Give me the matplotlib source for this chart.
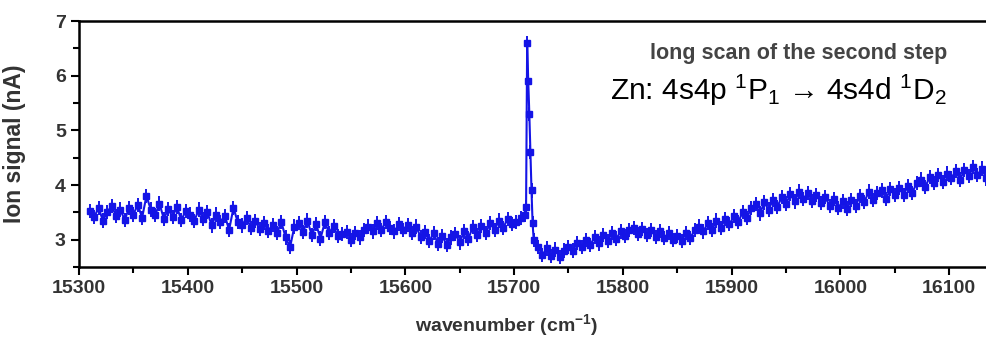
import numpy as np
import matplotlib
matplotlib.use('Agg')
import matplotlib.pyplot as plt
from matplotlib.ticker import MultipleLocator

plt.rcParams['font.family'] = ['Liberation Sans', 'DejaVu Sans']
plt.rcParams['mathtext.fontset'] = 'custom'
plt.rcParams['mathtext.rm'] = 'Liberation Sans'
plt.rcParams['mathtext.it'] = 'Liberation Sans:italic'
plt.rcParams['mathtext.bf'] = 'Liberation Sans:bold'

# scan before the resonance, 4 cm-1 steps from 15310
scan1_start = 15310
scan1_y = [3.52, 3.42, 3.58, 3.35, 3.50, 3.62, 3.44, 3.55, 3.36, 3.58, 3.46, 3.64, 3.40, 3.80, 3.55, 3.45, 3.66, 3.38, 3.56, 3.42, 3.60, 3.36, 3.52,
           3.46, 3.34, 3.55, 3.38, 3.50, 3.26, 3.46, 3.32, 3.44, 3.18, 3.58, 3.32, 3.26, 3.40, 3.22, 3.34, 3.20, 3.30, 3.16, 3.27, 3.12, 3.32, 3.04, 2.86, 3.24,
           3.30, 3.14, 3.35, 3.08, 3.28, 3.02, 3.32, 3.12, 3.25, 3.06, 3.10, 3.14, 3.00, 3.12, 3.04, 3.18, 3.24, 3.15, 3.30, 3.18, 3.33, 3.22, 3.15, 3.28, 3.18,
           3.27, 3.12, 3.24, 3.05, 3.14, 2.97, 3.12, 2.92, 3.07, 2.90, 3.04, 3.10, 2.95, 3.15, 3.02, 3.23, 3.08, 3.25, 3.12, 3.31, 3.18, 3.35, 3.22, 3.38, 3.28,
           3.32, 3.40, 3.45]

# resonance peak
peak_x = [15711, 15712, 15713, 15714, 15715, 15716, 15717, 15718]
peak_y = [3.60, 6.60, 5.90, 5.30, 4.60, 3.90, 3.30, 3.00]

# scan after the resonance, 4 cm-1 steps from 15722
scan2_start = 15722
scan2_y = [2.86, 2.72, 2.84, 2.70, 2.82, 2.68, 2.80, 2.87,
           2.80, 2.94, 2.86, 3.00, 2.90, 3.05, 2.93, 3.08, 2.98, 3.12, 3.02, 3.15,
           3.06, 3.18, 3.22, 3.10, 3.20, 3.08, 3.18, 3.05, 3.16, 3.03, 3.12, 3.00, 3.07,
           2.98, 3.12, 3.03, 3.18, 3.24, 3.15, 3.30, 3.18, 3.35, 3.22, 3.38, 3.28,
           3.43, 3.32, 3.50, 3.40, 3.58, 3.65, 3.48, 3.68, 3.55, 3.73, 3.60, 3.78, 3.66,
           3.83, 3.70, 3.88, 3.75, 3.85, 3.71, 3.82, 3.67, 3.78, 3.62, 3.74, 3.58,
           3.70, 3.57, 3.72, 3.62, 3.80, 3.69, 3.88, 3.72, 3.85, 3.90, 3.75, 3.93, 3.82,
           3.95, 3.82, 3.98, 3.86, 4.03, 4.10, 3.96, 4.15, 4.03, 4.18, 4.06, 4.21,
           4.13, 4.25, 4.10, 4.28, 4.16, 4.33, 4.18, 4.30, 4.12, 4.24]
step = 4
err = 0.13

x_ticks = [15300, 15400, 15500, 15600, 15700, 15800, 15900, 16000, 16100]
y_ticks = [3, 4, 5, 6, 7]

scan1_x = scan1_start + step * np.arange(len(scan1_y))
scan2_x = scan2_start + step * np.arange(len(scan2_y))
x = np.concatenate([scan1_x, peak_x, scan2_x])
y = np.concatenate([scan1_y, peak_y, scan2_y])

blue = '#1414e6'
fig = plt.figure(figsize=(9.86, 3.38), dpi=100)
ax = fig.add_axes([79/986, 71/338, 0.93, 246/338])

ax.errorbar(x, y, yerr=err, fmt='s-', color=blue, ms=4, lw=1.5,
            elinewidth=1.4, capsize=0)

ax.set_xlim(15300, 16143)
ax.set_ylim(2.5, 7)
ax.set_xticks(x_ticks)
ax.set_yticks(y_ticks)
ax.xaxis.set_minor_locator(MultipleLocator(50))
ax.yaxis.set_minor_locator(MultipleLocator(0.5))
ax.tick_params(which='major', direction='out', length=6, width=1.5, labelsize=14,
               labelcolor='#333333', top=False, right=False)
ax.tick_params(which='minor', direction='out', length=4, width=1.5, top=False, right=False)
for lab in ax.get_xticklabels() + ax.get_yticklabels():
    lab.set_fontweight('bold')
for s in ['left', 'bottom', 'top']:
    ax.spines[s].set_linewidth(1.8)
ax.spines['right'].set_visible(False)

ax.set_xlabel('wavenumber (cm$^{\\mathbf{-1}}$)', fontsize=14, fontweight='bold',
              color='#333333')
ax.xaxis.set_label_coords(0.466, -0.183)
ax.set_ylabel('Ion signal (nA)', fontsize=16.5, fontweight='bold', color='#333333')
ax.yaxis.set_label_coords(-0.058, 0.5)

fig.text(947/986, 1 - 53/338, 'long scan of the second step', fontsize=15.5,
         fontweight='bold', color='#444444', ha='right', va='center')
fig.text(947/986, 1 - 90/338, 'Zn: 4s4p $^1$P$_1$ \u2192 4s4d $^1$D$_2$',
         fontsize=21.5, color='black', ha='right', va='center')

fig.savefig('out.png', dpi=100)
